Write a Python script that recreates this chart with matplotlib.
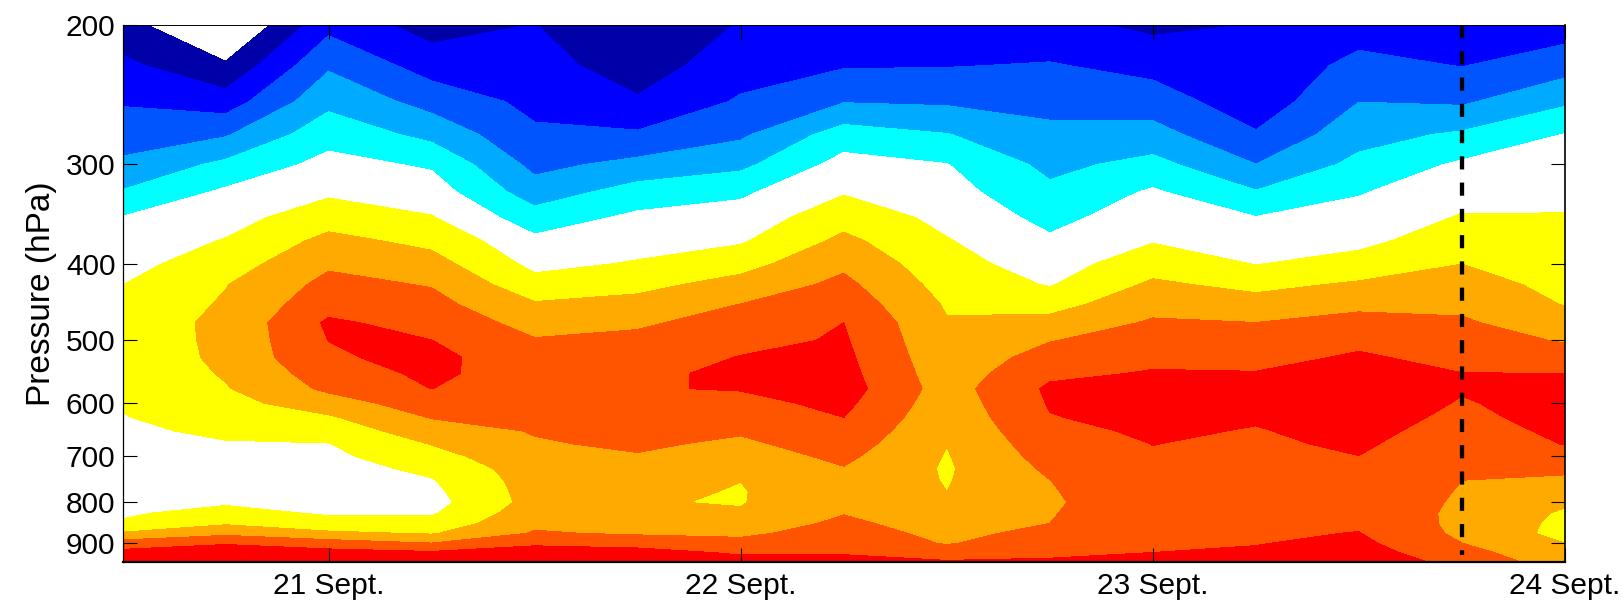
import numpy as np
import matplotlib
matplotlib.use('Agg')
import matplotlib.pyplot as plt

plt.rcParams['font.family'] = ['Liberation Sans', 'DejaVu Sans']

# 6-hourly times, in days of September
times = [20.5, 20.75, 21.0, 21.25, 21.5, 21.75, 22.0, 22.25, 22.5, 22.75, 23.0, 23.25, 23.5, 23.75, 24.0]
pressure = [200, 225, 250, 275, 300, 325, 350, 375, 400, 425, 450, 475, 500, 525, 550, 575,
            600, 625, 650, 675, 700, 725, 750, 775, 800, 825, 850, 875, 900, 925, 950]

# one row per pressure level, one column per time
field = [
    [-4.60, -6.30, -3.30, -4.44, -3.98, -4.90, -3.93, -3.70, -3.60, -3.70, -4.23, -3.97, -3.50, -3.60, -3.50],
    [-3.78, -4.85, -2.14, -3.45, -3.62, -4.50, -3.42, -3.09, -3.05, -2.93, -3.33, -3.78, -2.69, -3.04, -2.42],
    [-3.09, -3.51, -1.27, -2.37, -3.25, -3.88, -2.88, -2.05, -2.14, -2.31, -2.49, -3.60, -2.01, -2.14, -1.17],
    [-2.47, -2.10, -0.37, -1.29, -2.84, -2.86, -2.17, -0.52, -0.96, -1.75, -1.63, -2.90, -1.37, -0.85, 0.03],
    [-1.81, -0.77, 0.31, -0.13, -2.28, -1.71, -1.25, 0.36, 0.03, -1.27, -0.68, -1.99, -0.73, 0.16, 0.38],
    [-0.92, 0.17, 0.83, 0.49, -1.54, -0.56, -0.17, 0.92, 0.38, -0.78, 0.13, -0.93, -0.07, 0.62, 0.74],
    [0.05, 0.62, 1.58, 1.06, -0.54, 0.21, 0.42, 1.62, 0.73, -0.29, 0.54, 0.04, 0.36, 1.08, 1.06],
    [0.36, 1.07, 2.29, 1.76, 0.24, 0.63, 0.90, 2.25, 1.07, 0.16, 0.95, 0.50, 0.77, 1.53, 1.29],
    [0.68, 1.51, 2.85, 2.37, 0.73, 1.08, 1.64, 2.80, 1.34, 0.55, 1.57, 0.96, 1.36, 1.99, 1.51],
    [0.99, 1.96, 3.27, 2.94, 1.35, 1.72, 2.36, 3.24, 1.62, 0.93, 2.17, 1.72, 2.14, 2.38, 1.73],
    [1.26, 2.11, 3.64, 3.31, 2.10, 2.32, 3.01, 3.62, 1.89, 1.63, 2.67, 2.40, 2.78, 2.78, 1.95],
    [1.52, 2.20, 4.15, 3.66, 2.65, 2.88, 3.35, 4.00, 2.07, 2.33, 3.12, 3.01, 3.32, 3.13, 2.41],
    [1.43, 2.22, 4.01, 4.01, 3.07, 3.20, 3.70, 4.11, 2.19, 2.96, 3.45, 3.37, 3.81, 3.43, 2.92],
    [1.34, 2.21, 3.87, 4.30, 3.28, 3.45, 4.04, 4.22, 2.31, 3.39, 3.79, 3.73, 4.11, 3.73, 3.46],
    [1.25, 2.09, 3.50, 4.20, 3.48, 3.70, 4.29, 4.32, 2.43, 3.80, 4.07, 4.04, 4.29, 4.01, 4.00],
    [1.16, 1.93, 3.19, 4.01, 3.40, 3.95, 4.05, 4.43, 2.55, 4.16, 4.26, 4.19, 4.47, 4.07, 4.16],
    [1.07, 1.68, 2.53, 3.53, 3.29, 3.75, 3.74, 4.22, 2.42, 4.07, 4.37, 4.26, 4.56, 3.93, 4.33],
    [0.96, 1.43, 1.88, 3.05, 3.17, 3.55, 3.43, 4.00, 2.29, 3.96, 4.25, 4.08, 4.42, 3.78, 4.32],
    [0.83, 1.17, 1.41, 2.54, 3.06, 3.35, 3.11, 3.73, 2.15, 3.77, 4.13, 3.95, 4.27, 3.62, 4.18],
    [0.69, 0.93, 0.97, 2.04, 2.91, 3.15, 2.82, 3.47, 2.02, 3.57, 4.01, 3.86, 4.13, 3.47, 4.03],
    [0.55, 0.72, 0.78, 1.63, 2.72, 2.93, 2.55, 3.20, 1.94, 3.37, 3.94, 3.76, 3.99, 3.31, 3.65],
    [0.41, 0.51, 0.59, 1.23, 2.52, 2.68, 2.28, 2.95, 1.89, 3.17, 3.88, 3.67, 3.90, 3.15, 3.21],
    [0.51, 0.49, 0.41, 0.94, 2.45, 2.43, 2.01, 2.76, 1.94, 2.99, 3.82, 3.58, 3.80, 3.00, 2.82],
    [0.64, 0.69, 0.57, 0.78, 2.40, 2.18, 1.95, 2.63, 2.00, 2.92, 3.76, 3.51, 3.71, 2.93, 2.47],
    [0.76, 0.89, 0.74, 0.65, 2.36, 2.05, 1.95, 2.79, 2.18, 2.86, 3.70, 3.60, 3.62, 2.87, 2.13],
    [0.89, 1.28, 0.90, 0.89, 2.59, 2.33, 2.08, 2.96, 2.37, 2.93, 3.76, 3.69, 3.72, 2.78, 1.87],
    [1.09, 1.88, 1.33, 1.34, 2.81, 2.61, 2.44, 3.19, 2.55, 3.00, 3.82, 3.78, 3.87, 2.74, 1.77],
    [2.12, 2.76, 2.20, 1.92, 3.09, 2.89, 2.81, 3.44, 2.73, 3.27, 3.88, 3.87, 4.03, 2.79, 1.69],
    [3.43, 3.91, 3.45, 3.00, 3.82, 3.60, 3.28, 3.69, 2.92, 3.56, 3.94, 3.96, 4.22, 3.00, 2.00],
    [4.29, 4.49, 4.34, 4.13, 4.44, 4.37, 3.86, 3.94, 3.41, 3.84, 4.00, 4.11, 4.41, 3.35, 2.23],
    [4.80, 5.00, 4.90, 4.70, 5.00, 5.00, 4.40, 4.20, 4.10, 4.10, 4.20, 4.30, 4.60, 3.69, 2.46],
]

levels = [-5, -4, -3, -2, -1, 0, 1, 2, 3, 4, 5]
colors = ['#0000A8', '#0000FF', '#0055FF', '#00AAFF', '#00FFFF', '#FFFFFF', '#FFFF00', '#FFAA00', '#FF5500', '#FF0000']

y_ticks = [200, 300, 400, 500, 600, 700, 800, 900]
x_ticks = [21, 22, 23, 24]
x_labels = ['21 Sept.', '22 Sept.', '23 Sept.', '24 Sept.']
marker_time = 23.75

fig = plt.figure(figsize=(16.22, 6), dpi=100)
ax = fig.add_axes([122.5 / 1622, (600 - 561.7) / 600, (1565 - 122.5) / 1622, (561.7 - 24.7) / 600])
ax.contourf(times, pressure, np.array(field), levels=levels, colors=colors)

# vertical dashed marker
ax.plot([marker_time, marker_time], [200, 931], color='k', lw=3.1, dashes=(3.05, 3.05), dash_capstyle='butt')

ax.set_yscale('log')
ax.set_ylim(950, 200)
ax.set_xlim(times[0], times[-1])
ax.set_yticks(y_ticks)
ax.set_yticklabels([str(t) for t in y_ticks])
ax.minorticks_off()
ax.set_xticks(x_ticks)
ax.set_xticklabels(x_labels)
ax.tick_params(axis='both', which='major', direction='in', length=10, width=0.8, top=True, right=True, labelsize=21.5)
ax.tick_params(axis='x', pad=7.5)
ax.tick_params(axis='y', pad=5)
ax.set_ylabel('Pressure (hPa)', fontsize=24)
ax.yaxis.set_label_coords(-0.0454, 0.5)
ax.spines['bottom'].set_linewidth(1.6)
ax.spines['top'].set_linewidth(0.7)
ax.spines['left'].set_linewidth(0.9)
ax.spines['right'].set_linewidth(1.2)

fig.savefig('out.png', dpi=100)
